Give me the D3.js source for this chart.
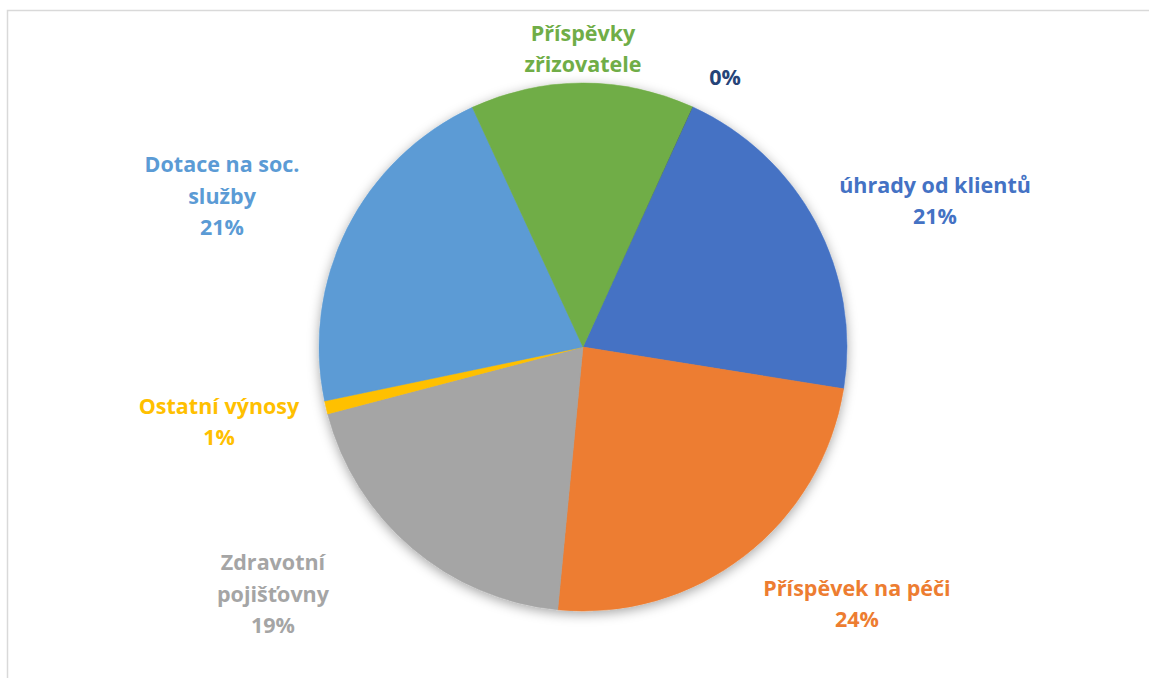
<!DOCTYPE html>
<html>
<head>
<meta charset="utf-8">
<script src="https://cdn.jsdelivr.net/npm/d3@7"></script>
<style>
	body { margin: 0; background: #fff; }
	svg text { font-family: "Open Sans", Lato, sans-serif; font-weight: bold; }
</style>
</head>
<body>
<div id="chart"></div>
<script>
// Data
var categories = ["úhrady od klientů", "Příspěvek na péči", "Zdravotní pojišťovny", "Ostatní výnosy", "Dotace na soc. služby", "Příspěvky zřizovatele", ""];
var values = [20.7, 24.0, 19.4, 0.8, 21.4, 13.7, 0.02];
var colors = ["#4472C4", "#ED7D31", "#A5A5A5", "#FFC000", "#5B9BD5", "#70AD47", "#264478"];
// label lines (wrapping like in the original)
var labelLines = [
	["úhrady od klientů"],
	["Příspěvek na péči"],
	["Zdravotní", "pojišťovny"],
	["Ostatní výnosy"],
	["Dotace na soc.", "služby"],
	["Příspěvky", "zřizovatele"],
	[]
];
var showPercent = [true, true, true, true, true, false, true];
// label centres relative to pie centre
var labelPos = [[352, -146], [274, 257], [-310, 247], [-364, 75], [-361, -151], [0, -298], [142, -270]];

var width = 1149, height = 678;
var cx = 583, cy = 347, radius = 264;

var svg = d3.select("#chart")
	.append("svg")
	.attr("width", width)
	.attr("height", height);

// shadow for the pie
var defs = svg.append("defs");
var filter = defs.append("filter")
	.attr("id", "shadow")
	.attr("x", "-20%").attr("y", "-20%")
	.attr("width", "140%").attr("height", "140%");
filter.append("feDropShadow")
	.attr("dx", 0).attr("dy", 3)
	.attr("stdDeviation", 6)
	.attr("flood-color", "#000")
	.attr("flood-opacity", 0.35);

// chart frame
svg.append("rect")
	.attr("x", 7.5).attr("y", 10.5)
	.attr("width", 1300).attr("height", 800)
	.style("fill", "none")
	.style("stroke", "#d9d9d9")
	.style("stroke-width", 1.5);

var total = d3.sum(values);
var start = 24.6 * Math.PI / 180;

var pie = d3.pie()
	.sort(null)
	.value(function (d) { return d; })
	.startAngle(start)
	.endAngle(start + 2 * Math.PI);

var arc = d3.arc().innerRadius(0).outerRadius(radius);

var arcs = pie(values);

var g = svg.append("g")
	.attr("transform", "translate(" + cx + "," + cy + ")");

g.append("g")
	.attr("filter", "url(#shadow)")
	.selectAll("path")
	.data(arcs)
	.enter()
	.append("path")
	.attr("d", arc)
	.style("fill", function (d, i) { return colors[i]; })
	.style("stroke", function (d, i) { return d.value < 0.1 ? "none" : colors[i]; })
	.style("stroke-width", 0.5);

// labels
var fmt = d3.format(".0%");
var lineH = 31.5;
var labels = g.selectAll(".lbl")
	.data(arcs)
	.enter()
	.append("text")
	.attr("class", "lbl")
	.attr("text-anchor", "middle")
	.style("font-size", "21.5px")
	.style("fill", function (d, i) { return colors[i]; });

labels.each(function (d, i) {
	var lines = labelLines[i].slice();
	if (showPercent[i]) lines.push(fmt(d.value / total));
	var n = lines.length;
	var t = d3.select(this);
	lines.forEach(function (l, k) {
		t.append("tspan")
			.attr("x", labelPos[i][0])
			.attr("y", labelPos[i][1] + (k - (n - 1) / 2) * lineH)
			.attr("dy", "0.35em")
			.text(l);
	});
});
</script>
</body>
</html>
